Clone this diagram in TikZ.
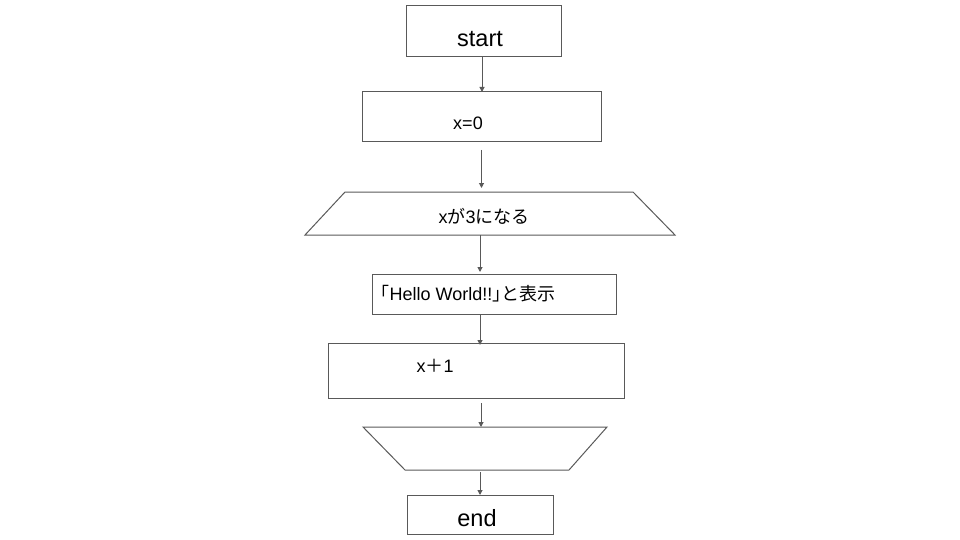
\documentclass[tikz,border=0pt]{standalone}
\usepackage{fontspec}
\setmainfont{Liberation Sans}
\newfontfamily\jp{Noto Sans CJK JP}
\newfontfamily\jpp[RawFeature=+palt]{Noto Sans CJK JP}
\usetikzlibrary{arrows.meta}
\definecolor{ln}{HTML}{595959}
\tikzset{
  box/.style={draw=ln, line width=1pt, inner sep=0pt, outer sep=0pt, rectangle},
  frame/.style={inner sep=0pt, outer sep=0pt, rectangle},
  edge/.style={draw=ln, line width=1pt, line join=miter},
  arr/.style={draw=ln, line width=1pt, -{Triangle[length=5pt,width=5pt]}},
  big/.style={font=\fontsize{23.5}{26}\selectfont, anchor=base, inner sep=0pt},
  txt/.style={font=\fontsize{18}{21}\selectfont, anchor=base, inner sep=0pt},
}
\begin{document}
\begin{tikzpicture}[x=1pt,y=-1pt]
\useasboundingbox (0,0) rectangle (960,540);
\node[box, minimum width=155pt, minimum height=51pt] (start) at (483.5,31.5) {};
\node[big] (starttxt) at (480,46.5) {start};
\node[box, minimum width=239pt, minimum height=50pt] (x0) at (481.5,117) {};
\node[txt] (x0txt) at (468,130) {x=0};
\node[frame, minimum width=370pt, minimum height=43pt] (t1) at (490,213.5) {};
\draw[edge] ([xshift=40pt]t1.north west) -- ([xshift=-42pt]t1.north east) -- (t1.south east) -- (t1.south west) -- cycle;
\node[txt] (t1txt) at (484,223) {x{\jp が}3{\jp になる}};
\node[box, minimum width=244pt, minimum height=40pt] (hello) at (494,294) {};
\node[txt] (hellotxt) at (468,300.5) {{\jpp 「}Hello World!!{\jpp 」}{\jp と表示}};
\node[box, minimum width=296pt, minimum height=55pt] (inc) at (476,370.5) {};
\node[txt] (inctxt) at (435,372.5) {x{\jp ＋}1};
\node[frame, minimum width=244pt, minimum height=43pt] (t2) at (485,448.5) {};
\draw[edge] (t2.north west) -- (t2.north east) -- ([xshift=-38pt]t2.south east) -- ([xshift=42pt]t2.south west) -- cycle;
\node[box, minimum width=146pt, minimum height=39pt] (end) at (480,514.5) {};
\node[big] (endtxt) at (477,526.5) {end};
\draw[arr] ([xshift=-1.5pt]start.south) -- ([xshift=-1.5pt]start.south |- x0.north);
\draw[arr] ([yshift=-8pt]x0.south) -- ([yshift=4pt]x0.south |- t1.north);
\draw[arr] ([xshift=-10pt]t1.south) -- ([xshift=-10pt,yshift=2pt]t1.south |- hello.north);
\draw[arr] ([xshift=-14pt]hello.south) -- ([xshift=-14pt,yshift=-2pt]hello.south |- inc.north);
\draw[arr] ([xshift=-4pt,yshift=-5pt]inc.south -| t2.north) -- ([xshift=-4pt]t2.north);
\draw[arr] ([yshift=-2pt]end.north |- t2.south) -- (end.north);
\end{tikzpicture}
\end{document}
